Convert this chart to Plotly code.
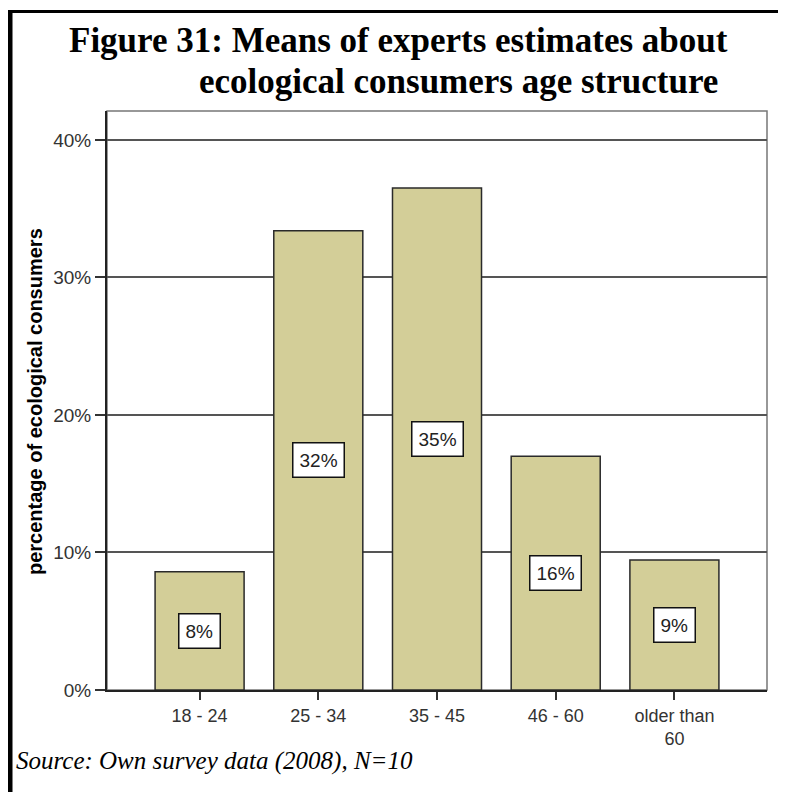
import plotly.graph_objects as go

categories = ["18 - 24", "25 - 34", "35 - 45", "46 - 60", "older than<br>60"]
values = [8.6, 33.4, 36.5, 17.0, 9.45]
bar_labels = ["8%", "32%", "35%", "16%", "9%"]
tick_vals = [0, 10, 20, 30, 40]
tick_text = ["0%", "10%", "20%", "30%", "40%"]

OFF = 8  # default page margin of the html body
W, H = 786 - OFF, 792 - OFF
# plot area in screen pixels
SL, SR, ST, SB = 107, 767, 111, 690
L, R, T, B = SL - OFF, SR - OFF, ST - OFF, SB - OFF

def px(x):
    return (x - SL) / (SR - SL)

def py(y):
    return (SB - y) / (SB - ST)

fig = go.Figure()
fig.add_trace(go.Bar(
    x=list(range(len(categories))), y=values,
    width=0.75,
    marker=dict(color="#d3ce98", line=dict(color="#2a2a2a", width=1.5)),
    hoverinfo="skip",
))

annotations = []
for i, (v, lab) in enumerate(zip(values, bar_labels)):
    annotations.append(dict(
        x=i, y=v / 2, xref="x", yref="y", text=lab, showarrow=False,
        font=dict(family="Liberation Sans, Arial", size=19, color="#222"),
        bgcolor="white", bordercolor="#111", borderwidth=1.5, borderpad=6,
    ))

annotations += [
    dict(x=px(398), y=py(40), xref="paper", yref="paper", xanchor="center", yanchor="middle",
         text="<b>Figure 31: Means of experts estimates about</b>", showarrow=False,
         font=dict(family="Liberation Serif, Times New Roman", size=35, color="black")),
    dict(x=px(720), y=py(81), xref="paper", yref="paper", xanchor="right", yanchor="middle",
         text="<b>ecological consumers age structure</b>", showarrow=False,
         font=dict(family="Liberation Serif, Times New Roman", size=35, color="black")),
    dict(x=px(14), y=py(761), xref="paper", yref="paper", xanchor="left", yanchor="middle",
         text="<i>Source: Own survey data (2008), N=10</i>", showarrow=False,
         font=dict(family="Liberation Serif, Times New Roman", size=25, color="black")),
    dict(x=px(35), y=py(402), xref="paper", yref="paper", xanchor="center", yanchor="middle",
         text="<b>percentage of ecological consumers</b>", showarrow=False, textangle=-90,
         font=dict(family="Liberation Sans, Arial", size=20, color="black")),
]

shapes = [
    # plot frame
    dict(type="rect", xref="paper", yref="paper", x0=0, x1=1, y0=0, y1=1,
         line=dict(color="#777", width=1.5), layer="below"),
    # outer page border
    dict(type="line", xref="paper", yref="paper", x0=px(10), x1=px(10), y0=py(10), y1=py(800),
         line=dict(color="black", width=5)),
    dict(type="line", xref="paper", yref="paper", x0=px(8), x1=px(783.5), y0=py(11.5), y1=py(11.5),
         line=dict(color="black", width=3)),
    dict(type="line", xref="paper", yref="paper", x0=px(782.5), x1=px(782.5), y0=py(10), y1=py(800),
         line=dict(color="black", width=2)),
]

fig.update_layout(
    width=W, height=H,
    margin=dict(l=L, r=W - R, t=T, b=H - B),
    paper_bgcolor="white", plot_bgcolor="white",
    showlegend=False,
    annotations=annotations, shapes=shapes,
    xaxis=dict(
        range=[-0.78, 4.78], tickmode="array", tickvals=list(range(len(categories))),
        ticktext=categories, ticks="outside", ticklen=8, tickcolor="#333", tickwidth=1.5,
        showline=True, linecolor="#222", linewidth=2, showgrid=False, zeroline=False,
        tickfont=dict(family="Liberation Sans, Arial", size=18, color="#333"),
    ),
    yaxis=dict(
        range=[0, 42.1], tickmode="array", tickvals=tick_vals, ticktext=tick_text,
        ticks="outside", ticklen=10, tickcolor="#333", tickwidth=1.5,
        showline=True, linecolor="#222", linewidth=2,
        showgrid=True, gridcolor="#555", gridwidth=1.5, zeroline=False,
        tickfont=dict(family="Liberation Sans, Arial", size=19, color="#333"),
    ),
)

fig.write_html("out.html")
